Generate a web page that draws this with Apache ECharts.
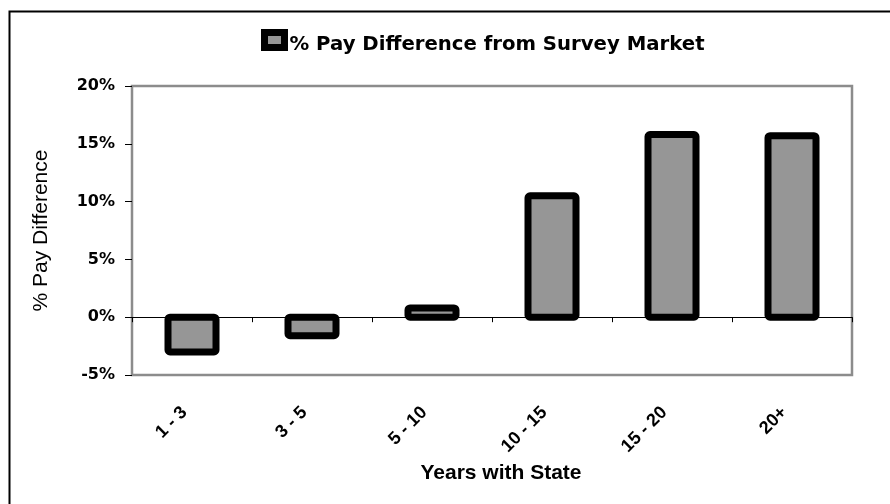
<!DOCTYPE html>
<html>
<head>
<meta charset="utf-8">
<script src="https://cdn.jsdelivr.net/npm/echarts@6/dist/echarts.min.js"></script>
<style>
  html, body { margin: 0; padding: 0; background: #fff; }
  #chart { width: 890px; height: 504px; }
</style>
</head>
<body>
<div id="chart"></div>
<script>
// Years-of-service groups and the pay gap against the survey market (%)
const categories = ['1 - 3', '3 - 5', '5 - 10', '10 - 15', '15 - 20', '20+'];
const payDifference = [-3.0, -1.6, 0.8, 10.5, 15.8, 15.7];
const seriesName = '% Pay Difference from Survey Market';
const yTicks = { min: -5, max: 20, step: 5 };

const BAR_FILL = '#969696';
const BAR_EDGE = '#000000';
const BAR_WIDTH = 48;
const EDGE_WIDTH = 7;

const chart = echarts.init(document.getElementById('chart'), null, { renderer: 'canvas' });

// Bars with a heavy outline centred on the bar edge (the outline straddles the
// zero line and the value line), positioned through the axis scales.
function renderBar(params, api) {
  const idx = api.value(0);
  const val = api.value(1);
  const base = api.coord([idx, 0]);
  const tip = api.coord([idx, val]);
  const y0 = Math.min(base[1], tip[1]);
  const h = Math.abs(tip[1] - base[1]);
  return {
    type: 'rect',
    shape: { x: base[0] - BAR_WIDTH / 2, y: y0, width: BAR_WIDTH, height: h, r: 2 },
    style: { fill: BAR_FILL, stroke: BAR_EDGE, lineWidth: EDGE_WIDTH, lineJoin: 'round' }
  };
}

chart.setOption({
  animation: false,
  backgroundColor: '#ffffff',
  graphic: [
    {
      type: 'rect',
      shape: { x: 9.5, y: 11.5, width: 1000, height: 1000 },
      style: { fill: 'none', stroke: '#000', lineWidth: 2 },
      silent: true
    }
  ],
  legend: {
    left: 261,
    top: 29,
    padding: 0,
    itemWidth: 20,
    itemHeight: 15,
    icon: 'rect',
    data: [seriesName],
    formatter: '{t|{name}}',
    textStyle: {
      rich: {
        t: {
          fontFamily: 'DejaVu Sans',
          fontWeight: 'bold',
          fontSize: 19.7,
          color: '#000',
          padding: [9, 0, 0, 0]
        }
      }
    },
    itemStyle: { color: BAR_FILL, borderColor: BAR_EDGE, borderWidth: EDGE_WIDTH }
  },
  grid: {
    left: 132,
    right: 38,
    top: 86,
    bottom: 129,
    show: true,
    borderColor: '#8c8c8c',
    borderWidth: 2.5,
    containLabel: false
  },
  xAxis: [
    {
      type: 'category',
      data: categories,
      axisLine: { onZero: true, lineStyle: { color: '#000', width: 1 } },
      axisTick: { show: true, length: 5, lineStyle: { color: '#000' }, alignWithLabel: false },
      axisLabel: { show: false },
      splitLine: { show: false }
    },
    {
      type: 'category',
      data: categories,
      position: 'bottom',
      axisLine: { show: false, onZero: false },
      axisTick: { show: false },
      axisLabel: {
        rotate: 45,
        margin: 27,
        padding: [0, 11, 0, 0],
        fontFamily: 'Liberation Sans',
        fontWeight: 'bold',
        fontSize: 18,
        color: '#000'
      },
      name: 'Years with State',
      nameLocation: 'middle',
      nameGap: 88,
      nameTextStyle: {
        fontFamily: 'Liberation Sans',
        fontWeight: 'bold',
        fontSize: 21,
        color: '#000',
        padding: [0, 0, 0, 18]
      }
    }
  ],
  yAxis: {
    type: 'value',
    min: yTicks.min,
    max: yTicks.max,
    interval: yTicks.step,
    axisLine: { show: false },
    axisTick: { show: true, inside: false, length: 7, lineStyle: { color: '#000' } },
    axisLabel: {
      formatter: '{value}%',
      margin: 17,
      fontFamily: 'DejaVu Sans',
      fontWeight: 'bold',
      fontSize: 16,
      color: '#000'
    },
    splitLine: { show: false },
    name: '% Pay Difference',
    nameLocation: 'middle',
    nameGap: 80,
    nameTextStyle: {
      fontFamily: 'Liberation Sans',
      fontSize: 21,
      color: '#000'
    }
  },
  series: [
    {
      name: seriesName,
      type: 'custom',
      xAxisIndex: 0,
      renderItem: renderBar,
      encode: { x: 0, y: 1 },
      itemStyle: { color: BAR_FILL, borderColor: BAR_EDGE, borderWidth: EDGE_WIDTH },
      data: payDifference.map((v, i) => [i, v])
    }
  ]
});
</script>
</body>
</html>
